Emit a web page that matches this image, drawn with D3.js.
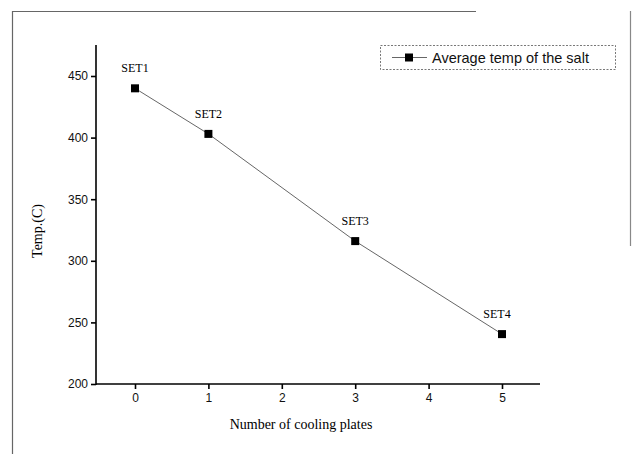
<!DOCTYPE html>
<html><head><meta charset="utf-8">
<script src="https://cdn.jsdelivr.net/npm/d3@7"></script>
<style>body{margin:0;background:#fff}svg{display:block}</style>
</head><body>
<script>
const plates = [0, 1, 3, 5];
const temps = [440, 403, 316, 240.5];
const setLabels = ["SET1", "SET2", "SET3", "SET4"];
const xTicks = [0, 1, 2, 3, 4, 5];
const yTicks = [200, 250, 300, 350, 400, 450];
const seriesName = "Average temp of the salt";
const xTitle = "Number of cooling plates";
const yTitle = "Temp.(C)";

const W = 632, H = 454;
const svg = d3.select("body").append("svg").attr("width", W).attr("height", H);

// frame
svg.append("line").attr("x1",12.5).attr("x2",12.5).attr("y1",11).attr("y2",454).attr("stroke","#666").attr("stroke-width",1.2);
svg.append("line").attr("x1",12).attr("x2",476).attr("y1",11.5).attr("y2",11.5).attr("stroke","#666").attr("stroke-width",1.2);
svg.append("line").attr("x1",630.5).attr("x2",630.5).attr("y1",11).attr("y2",246).attr("stroke","#888").attr("stroke-width",1.2);

const x = d3.scaleLinear().domain([0,5]).range([135,502]);
const y = d3.scaleLinear().domain([200,450]).range([384,76]);
const xL = x.invert(96);

const gx = svg.append("g").attr("transform","translate(0,384)");
gx.call(d3.axisBottom(x).tickValues(d3.range(-0.5,5.6,0.5).filter(v=>v%1!==0 && v>xL)).tickSize(3).tickFormat(""))
  .call(g=>g.select(".domain").remove());
gx.call(d3.axisBottom(x).tickValues(xTicks).tickSize(5).tickFormat(d3.format("d")))
  .call(g=>g.select(".domain").remove());
gx.append("line").attr("x1",96).attr("x2",540).attr("stroke","#000").attr("stroke-width",2);
gx.selectAll("line").attr("stroke","#000").attr("stroke-width",1.6);
gx.selectAll("text").attr("font-family","Liberation Sans, Arial, sans-serif").attr("font-size",12).attr("fill","#111").attr("dy","0.85em");

const gy = svg.append("g").attr("transform","translate(96,0)");
gy.call(d3.axisLeft(y).tickValues(d3.range(225,476,50)).tickSize(3).tickFormat(""))
  .call(g=>g.select(".domain").remove());
gy.call(d3.axisLeft(y).tickValues(yTicks).tickSize(5).tickFormat(d3.format("d")))
  .call(g=>g.select(".domain").remove());
gy.append("line").attr("y1",45).attr("y2",385).attr("stroke","#000").attr("stroke-width",2);
gy.selectAll("line").attr("stroke","#000").attr("stroke-width",1.6);
gy.selectAll("text").attr("font-family","Liberation Sans, Arial, sans-serif").attr("font-size",12).attr("fill","#111");

svg.append("text").attr("x",301).attr("y",429).attr("text-anchor","middle")
  .attr("font-family","Liberation Serif, Times New Roman, serif").attr("font-size",14).text(xTitle);
svg.append("text").attr("transform","translate(42,231) rotate(-90)").attr("text-anchor","middle")
  .attr("font-family","Liberation Serif, Times New Roman, serif").attr("font-size",14).text(yTitle);

const data = plates.map((p,i)=>({p, t:temps[i], l:setLabels[i]}));
svg.append("path").datum(data)
  .attr("d", d3.line().x(d=>x(d.p)).y(d=>y(d.t)))
  .attr("fill","none").attr("stroke","#555").attr("stroke-width",0.9);
svg.selectAll("rect.pt").data(data).enter().append("rect").attr("class","pt")
  .attr("x",d=>x(d.p)-4).attr("y",d=>y(d.t)-4).attr("width",8).attr("height",8).attr("fill","#000");
svg.selectAll("text.lab").data(data).enter().append("text").attr("class","lab")
  .attr("x",(d,i)=>x(d.p)+(i===3?-5:0)).attr("y",d=>y(d.t)-16).attr("text-anchor","middle")
  .attr("font-family","Liberation Serif, Times New Roman, serif").attr("font-size",12).text(d=>d.l);

const lg = svg.append("g");
lg.append("rect").attr("x",380.5).attr("y",45.5).attr("width",235).attr("height",24)
  .attr("fill","none").attr("stroke","#555").attr("stroke-width",0.8).attr("stroke-dasharray","2,1.5");
lg.append("line").attr("x1",392).attr("x2",427).attr("y1",57.5).attr("y2",57.5).attr("stroke","#555").attr("stroke-width",0.9);
lg.append("rect").attr("x",405).attr("y",53.5).attr("width",8).attr("height",8).attr("fill","#000");
lg.append("text").attr("x",432).attr("y",62.5).attr("font-family","Liberation Sans, Arial, sans-serif")
  .attr("font-size",14.5).attr("fill","#111").text(seriesName);
</script>
</body></html>
